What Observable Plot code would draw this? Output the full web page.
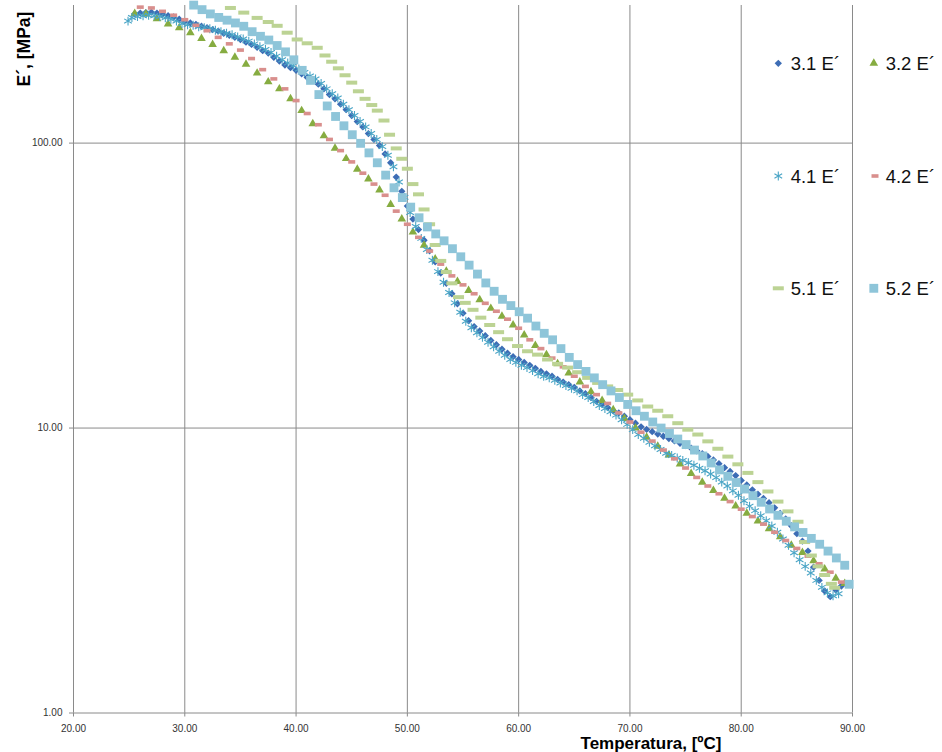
<!DOCTYPE html>
<html lang="es">
<head>
<meta charset="utf-8">
<title>E´ vs Temperatura</title>
<script src="https://cdn.jsdelivr.net/npm/d3@7"></script>
<script src="https://cdn.jsdelivr.net/npm/@observablehq/plot@0.6"></script>
<style>
  html, body { margin: 0; padding: 0; background: #fff; }
  #chart { position: relative; width: 942px; height: 752px; overflow: hidden; background: #fff; }
  #chart svg { display: block; }
  #legend { position: absolute; left: 0; top: 0; pointer-events: none; }
</style>
</head>
<body>
<div id="chart"></div>
<script>
// ---- Data: [Temperatura ºC, E´ MPa] ----
const s31 = [[25.5,284],[26,286],[26.5,287],[27,288],[27.5,286],[28,283],[28.5,280],[29,277],[29.5,272],[30,267],[30.5,264],[31,261],[31.5,257],[32,254],[32.5,250],[33,247],[33.5,243],[34,239],[34.5,235],[35,231],[35.5,226],[36,222],[36.5,217],[37,211],[37.5,207],[38,200],[38.5,194],[39,188],[39.5,184],[40,180],[40.5,175],[41,170],[41.5,166],[42,161],[42.5,155],[43,148],[43.5,143],[44,137],[44.5,131],[45,125],[45.5,119],[46,114],[46.5,108],[47,103],[47.5,98],[48,91.6],[48.5,85.3],[49,76.0],[49.5,67.7],[50,60.1],[50.5,54.1],[51,49.7],[51.5,45.6],[52,41.9],[52.5,38.3],[53,35.0],[53.5,32.2],[54,29.6],[54.5,27.3],[55,25.3],[55.5,23.8],[56,22.7],[56.5,21.9],[57,21.1],[57.5,20.3],[58,19.6],[58.5,18.9],[59,18.3],[59.5,17.8],[60,17.4],[60.5,17.0],[61,16.6],[61.5,16.2],[62,15.8],[62.5,15.5],[63,15.2],[63.5,14.8],[64,14.5],[64.5,14.2],[65,13.9],[65.5,13.5],[66,13.2],[66.5,12.8],[67,12.4],[67.5,12.1],[68,11.8],[68.5,11.5],[69,11.3],[69.5,11.0],[70,10.7],[70.5,10.4],[71,10.1],[71.5,9.89],[72,9.71],[72.5,9.53],[73,9.36],[73.5,9.19],[74,9.01],[74.5,8.84],[75,8.67],[75.5,8.50],[76,8.32],[76.5,8.13],[77,7.95],[77.5,7.73],[78,7.50],[78.5,7.26],[79,7.04],[79.5,6.81],[80,6.55],[80.5,6.31],[81,6.07],[81.5,5.86],[82,5.66],[82.5,5.47],[83,5.25],[83.5,5.02],[84,4.80],[84.5,4.54],[85,4.26],[85.5,4.01],[86,3.70],[86.5,3.25],[87,2.92],[87.5,2.68],[88,2.56],[88.5,2.70],[89,2.79]];

const s32 = [[25.5,285],[26.5,284],[27.5,273],[28.5,262],[29.5,254],[30.5,244],[31.5,233],[32.5,222],[33.5,211],[34.5,200],[35.5,189],[36.5,176],[37.5,164],[38.5,155],[39.5,143],[40.5,130],[41.5,117],[42.5,106],[43.5,95.9],[44.5,88.2],[45.5,80.9],[46.5,74.8],[47.5,68.5],[48.5,60.9],[49.5,54.2],[50.5,48.7],[51.5,43.8],[52.5,39.2],[53.5,35.5],[54.5,32.7],[55.5,30.4],[56.5,28.2],[57.5,26.3],[58.5,24.7],[59.5,23.0],[60.5,21.2],[61.5,19.5],[62.5,18.1],[63.5,16.8],[64.5,15.6],[65.5,14.5],[66.5,13.4],[67.5,12.5],[68.5,11.6],[69.5,10.8],[70.5,10.0],[71.5,9.28],[72.5,8.63],[73.5,8.04],[74.5,7.48],[75.5,6.93],[76.5,6.45],[77.5,6.04],[78.5,5.67],[79.5,5.33],[80.5,5.02],[81.5,4.72],[82.5,4.43],[83.5,4.15],[84.5,3.88],[85.5,3.66],[86.5,3.42],[87.5,3.20],[88.5,2.97],[89.3,2.85]];

const s41 = [[24.9,268],[25.25,276],[25.75,278],[26.25,280],[26.75,281],[27.25,280],[27.75,278],[28.25,275],[28.75,272],[29.25,268],[29.75,263],[30.25,260],[30.75,259],[31.25,256],[31.75,254],[32.25,252],[32.75,249],[33.25,246],[33.75,243],[34.25,240],[34.75,236],[35.25,232],[35.75,228],[36.25,223],[36.75,218],[37.25,213],[37.75,208],[38.25,202],[38.75,196],[39.25,191],[39.75,187],[40.25,182],[40.75,177],[41.25,172],[41.75,168],[42.25,162],[42.75,155],[43.25,149],[43.75,144],[44.25,137],[44.75,131],[45.25,125],[45.75,119],[46.25,114],[46.75,108],[47.25,103],[47.75,97.2],[48.25,90.6],[48.75,82.6],[49.25,73.0],[49.75,64.5],[50.25,57.1],[50.75,51.0],[51.25,46.3],[51.75,42.3],[52.25,38.8],[52.75,35.4],[53.25,32.5],[53.75,29.9],[54.25,27.5],[54.75,25.5],[55.25,23.7],[55.75,22.5],[56.25,21.6],[56.75,20.8],[57.25,20.0],[57.75,19.3],[58.25,18.6],[58.75,18.0],[59.25,17.4],[59.75,17.0],[60.25,16.6],[60.75,16.3],[61.25,15.9],[61.75,15.5],[62.25,15.2],[62.75,15.0],[63.25,14.7],[63.75,14.4],[64.25,14.1],[64.75,13.8],[65.25,13.5],[65.75,13.1],[66.25,12.8],[66.75,12.4],[67.25,12.0],[67.75,11.7],[68.25,11.4],[68.75,11.1],[69.25,10.7],[69.75,10.3],[70.25,9.87],[70.75,9.49],[71.25,9.20],[71.75,8.92],[72.25,8.66],[72.75,8.41],[73.25,8.16],[73.75,8.01],[74.25,7.85],[74.75,7.70],[75.25,7.55],[75.75,7.40],[76.25,7.23],[76.75,7.08],[77.25,6.90],[77.75,6.70],[78.25,6.46],[78.75,6.26],[79.25,6.02],[79.75,5.81],[80.25,5.56],[80.75,5.32],[81.25,5.13],[81.75,4.92],[82.25,4.73],[82.75,4.53],[83.25,4.31],[83.75,4.08],[84.25,3.88],[84.75,3.65],[85.25,3.45],[85.75,3.27],[86.25,3.10],[86.75,2.92],[87.25,2.76],[87.75,2.64],[88.25,2.58],[88.75,2.62]];

const s42 = [[26,300],[27,298],[28,290],[29,281],[30,271],[31,259],[32,248],[33,235],[34,223],[35,212],[36,198],[37,181],[38,168],[39,155],[40,141],[41,127],[42,116],[43,103],[44,94.1],[45,85.9],[46,78.4],[47,71.8],[48,65.6],[49,57.7],[50,51.9],[51,46.7],[52,41.8],[53,37.6],[54,34.2],[55,31.8],[56,29.6],[57,27.4],[58,25.7],[59,24.1],[60,22.4],[61,20.4],[62,19.0],[63,17.6],[64,16.4],[65,15.2],[66,14.0],[67,13.1],[68,12.2],[69,11.3],[70,10.5],[71,9.67],[72,9.00],[73,8.37],[74,7.80],[75,7.24],[76,6.71],[77,6.26],[78,5.88],[79,5.52],[80,5.19],[81,4.89],[82,4.60],[83,4.31],[84,4.03],[85,3.78],[86,3.55],[87,3.34],[88,3.12],[89,2.88]];

const s51 = [[34.1,298],[35.3,287],[36.5,275],[37.5,266],[38.3,258],[39.2,244],[40.1,231],[41.0,224],[41.9,216],[42.6,203],[43.2,193],[43.8,183],[44.4,173],[45.0,163],[45.6,152],[46.2,143],[46.8,136],[47.3,130],[47.9,120],[48.4,107],[49.0,95.8],[49.5,88.1],[50.0,81.3],[50.5,71.8],[51.0,66.1],[51.5,58.5],[52.0,51.9],[52.5,43.9],[53.0,38.6],[53.5,35.3],[54.0,32.2],[54.6,28.8],[55.2,27.5],[55.9,26.0],[56.6,24.4],[57.4,23.0],[58.2,21.7],[59.0,20.5],[59.9,19.4],[60.8,18.6],[61.7,18.1],[62.6,17.4],[63.5,16.8],[64.4,16.3],[65.3,15.7],[66.2,15.0],[67.1,14.4],[68.0,14.0],[68.9,13.6],[69.8,13.1],[70.7,12.5],[71.6,11.9],[72.5,11.5],[73.4,11.0],[74.3,10.4],[75.2,9.87],[76.1,9.49],[77.0,8.98],[77.9,8.46],[78.8,7.94],[79.7,7.46],[80.6,6.96],[81.5,6.46],[82.4,5.99],[83.3,5.52],[84.2,5.10],[85.1,4.69],[85.7,3.98],[86.3,3.57],[86.9,3.27],[87.5,3.05],[88.1,2.84],[88.4,2.75]];

const s52 = [[30.8,305],[31.55,294],[32.3,284],[33.05,276],[33.8,270],[34.55,264],[35.3,257],[36.05,246],[36.8,237],[37.55,230],[38.3,220],[39.05,209],[39.8,196],[40.55,180],[41.3,166],[42.05,148],[42.8,135],[43.55,124],[44.3,115],[45.05,107],[45.8,99.8],[46.55,92.4],[47.3,85.3],[48.05,77.2],[48.8,69.7],[49.55,64.4],[50.3,59.6],[51.05,54.7],[51.8,50.8],[52.55,48.0],[53.3,45.4],[54.05,42.6],[54.8,39.9],[55.55,37.3],[56.3,34.7],[57.05,32.3],[57.8,30.2],[58.55,28.3],[59.3,26.9],[60.05,25.6],[60.8,24.3],[61.55,22.8],[62.3,21.5],[63.05,20.4],[63.8,19.0],[64.55,17.7],[65.3,16.7],[66.05,15.8],[66.8,15.0],[67.55,14.2],[68.3,13.5],[69.05,12.8],[69.8,12.1],[70.55,11.5],[71.3,11.0],[72.05,10.5],[72.8,10.0],[73.55,9.57],[74.3,9.15],[75.05,8.75],[75.8,8.37],[76.55,7.98],[77.3,7.54],[78.05,7.13],[78.8,6.77],[79.55,6.44],[80.3,6.11],[81.05,5.79],[81.8,5.49],[82.55,5.20],[83.3,4.94],[84.05,4.71],[84.8,4.50],[85.55,4.30],[86.3,4.10],[87.05,3.91],[87.8,3.70],[88.55,3.50],[89.3,3.30],[89.7,2.83]];

const seriesNames = ["3.1 E´", "3.2 E´", "4.1 E´", "4.2 E´", "5.1 E´", "5.2 E´"];
const xTicks = [20, 30, 40, 50, 60, 70, 80, 90];
const yTicks = [1, 10, 100];
const xDomain = [20, 90];
const yDomain = [1, 304];
const xTitle = "Temperatura, [ºC]";
const yTitle = "E´, [MPa]";

// ---- Marker styles ----
const rectSymbol = (w, h) => ({
  draw(ctx) {
    ctx.moveTo(-w / 2, -h / 2); ctx.lineTo(w / 2, -h / 2);
    ctx.lineTo(w / 2, h / 2); ctx.lineTo(-w / 2, h / 2); ctx.closePath();
  }
});
const styles = [
  {data: s31, symbol: "diamond2", d3sym: d3.symbolDiamond2, r: 3.3, color: "#3d6db5", filled: true},
  {data: s32, symbol: "triangle", d3sym: d3.symbolTriangle, r: 3.2, color: "#86ac41", filled: true},
  {data: s41, symbol: "asterisk", d3sym: d3.symbolAsterisk, r: 4.2, color: "#4aa5c6", filled: false},
  {data: s42, symbol: rectSymbol(7, 3.6), d3sym: rectSymbol(7, 3.6), r: 3, color: "#d98f8d", filled: true},
  {data: s51, symbol: rectSymbol(11, 4), d3sym: rectSymbol(11, 4), r: 3, color: "#bcd394", filled: true},
  {data: s52, symbol: "square", d3sym: d3.symbolSquare, r: 5, color: "#8ec5d9", filled: true}
];

const gridColor = "#8a8a8a";
const font = "'Liberation Sans', Arial, sans-serif";

const dotMarks = styles.map(s => Plot.dot(s.data, {
  x: d => d[0], y: d => d[1], symbol: s.symbol, r: s.r,
  fill: s.filled ? s.color : "none",
  stroke: s.filled ? "none" : s.color,
  strokeWidth: s.filled ? 0 : 1.1
}));

const chart = Plot.plot({
  width: 942, height: 752,
  marginLeft: 73, marginRight: 90, marginTop: 5, marginBottom: 39.5,
  style: {fontFamily: font, background: "#fff", overflow: "visible"},
  x: {domain: xDomain},
  y: {type: "log", domain: yDomain},
  marks: [
    Plot.gridX(xTicks, {stroke: gridColor, strokeOpacity: 1, strokeWidth: 1}),
    Plot.gridY(yTicks, {stroke: gridColor, strokeOpacity: 1, strokeWidth: 1}),
    Plot.axisX(xTicks, {tickSize: 4, tickPadding: 8, tickFormat: d3.format(".2f"), label: null, fontSize: 10, stroke: gridColor, fill: "#333"}),
    Plot.axisY(yTicks, {tickSize: 4, tickPadding: 7, tickFormat: d3.format(".2f"), label: null, fontSize: 10, stroke: gridColor, fill: "#333"}),
    ...dotMarks,
    Plot.text([xTitle], {text: d => d, frameAnchor: "bottom", dx: 188, dy: 30.5, fontWeight: "bold", fontSize: 17, lineAnchor: "middle", textAnchor: "middle", fill: "#000"}),
    Plot.text([yTitle], {text: d => d, frameAnchor: "top-left", rotate: -90, dx: -49, dy: 43.5, fontWeight: "bold", fontSize: 17.5, lineAnchor: "middle", textAnchor: "middle", fill: "#000"})
  ]
});
document.getElementById("chart").append(chart);

// ---- Legend (two columns, three rows, top-right over the plot) ----
const legendLayout = [
  {mx: 778.3, my: 63.3, tx: 790.7},
  {mx: 873.8, my: 63.3, tx: 885.7},
  {mx: 778.3, my: 176.0, tx: 790.7},
  {mx: 875.0, my: 176.0, tx: 885.7},
  {mx: 778.3, my: 288.3, tx: 790.7},
  {mx: 873.8, my: 288.3, tx: 885.7}
];
const leg = d3.select("#chart").append("svg")
  .attr("id", "legend").attr("width", 942).attr("height", 752);
legendLayout.forEach((p, i) => {
  const s = styles[i];
  leg.append("path")
    .attr("transform", `translate(${p.mx},${p.my})`)
    .attr("d", d3.symbol(s.d3sym, Math.PI * s.r * s.r)())
    .attr("fill", s.filled ? s.color : "none")
    .attr("stroke", s.filled ? "none" : s.color)
    .attr("stroke-width", s.filled ? 0 : 1.1);
  leg.append("text")
    .attr("x", p.tx).attr("y", p.my)
    .attr("dy", "0.36em")
    .attr("font-family", font)
    .attr("font-size", 18.5)
    .attr("fill", "#111")
    .text(seriesNames[i]);
});
</script>
</body>
</html>
